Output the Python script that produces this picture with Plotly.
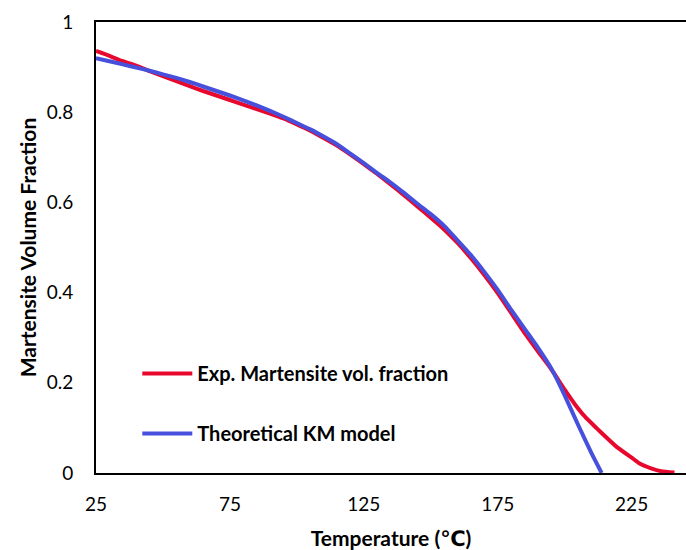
import plotly.graph_objects as go

# Experimental martensite volume fraction
exp_T = [25, 30, 35, 40, 45, 50, 55, 60, 65, 70, 75, 80, 85, 90, 95, 100, 105, 110, 115,
         120, 125, 130, 135, 140, 145, 150, 155, 160, 165, 170, 175, 180, 185, 190, 195,
         200, 204.5, 208, 212, 215, 219.4, 225, 228, 232, 236, 241]
exp_f = [0.936, 0.925, 0.913, 0.903, 0.891, 0.880, 0.869, 0.858, 0.847, 0.837, 0.827,
         0.817, 0.807, 0.797, 0.786, 0.773, 0.759, 0.743, 0.726, 0.706, 0.685, 0.663,
         0.640, 0.616, 0.591, 0.566, 0.540, 0.510, 0.476, 0.439, 0.399, 0.355, 0.311,
         0.270, 0.230, 0.185, 0.147, 0.122, 0.099, 0.082, 0.058, 0.034, 0.021, 0.011,
         0.004, 0.001]

# Theoretical KM model
km_T = [25, 30, 35, 40, 45, 50, 55, 60, 65, 70, 75, 80, 85, 90, 95, 100, 105, 110, 115,
        120, 125, 130, 135, 140, 145, 150, 155, 160, 165, 170, 175, 180, 185, 190, 195,
        200, 205, 210, 213.8]
km_f = [0.920, 0.913, 0.906, 0.899, 0.892, 0.884, 0.876, 0.867, 0.857, 0.847, 0.837,
        0.826, 0.815, 0.803, 0.790, 0.776, 0.762, 0.746, 0.729, 0.708, 0.687, 0.665,
        0.644, 0.621, 0.597, 0.574, 0.548, 0.516, 0.483, 0.446, 0.406, 0.362, 0.320,
        0.278, 0.232, 0.172, 0.107, 0.044, 0.0]

x_ticks = [25, 75, 125, 175, 225]
y_ticks = [0, 0.2, 0.4, 0.6, 0.8, 1]
y_tick_text = ["0", "0.2", "0.4", "0.6", "0.8", "1"]

FONT = "Lato, 'Open Sans', 'DejaVu Sans', sans-serif"

fig = go.Figure()
fig.add_trace(go.Scatter(
    x=exp_T, y=exp_f, mode="lines", name="<b>Exp. Martensite vol. fraction</b>",
    line=dict(color="#E8082E", width=4, shape="spline", smoothing=0.5),
    legendgroup="a",
))
fig.add_trace(go.Scatter(
    x=km_T, y=km_f, mode="lines", name="<b>Theoretical KM model</b>",
    line=dict(color="#4650DC", width=4, shape="spline", smoothing=0.5),
    legendgroup="b",
))

fig.update_layout(
    width=686, height=550,
    margin=dict(l=96, r=0, t=22, b=77),
    paper_bgcolor="white", plot_bgcolor="white",
    font=dict(family=FONT, color="black", size=19),
    showlegend=True,
    legend=dict(
        x=0.07, y=0.264, xanchor="left", yanchor="top",
        bgcolor="rgba(0,0,0,0)", font=dict(size=20, color="black"),
        traceorder="grouped", tracegroupgap=31, itemwidth=50,
    ),
)
fig.update_xaxes(
    range=[25, 245.3], tickvals=x_ticks, ticktext=[str(v) for v in x_ticks],
    showgrid=False, zeroline=False, showline=True, linecolor="black", linewidth=2,
    mirror=True, ticks="", ticklabelstandoff=13,
    tickfont=dict(size=19, family=FONT),
    title=dict(text="<b>Temperature (℃)</b>", font=dict(size=21, family=FONT), standoff=18),
)
fig.update_yaxes(
    range=[0, 1], tickvals=y_ticks, ticktext=y_tick_text,
    showgrid=False, zeroline=False, showline=True, linecolor="black", linewidth=2,
    mirror=False, ticks="", ticklabelstandoff=17,
    tickfont=dict(size=19, family=FONT),
    title=dict(text="<b>Martensite Volume Fraction</b>", font=dict(size=21, family=FONT), standoff=4),
)

fig.write_html("out.html")
